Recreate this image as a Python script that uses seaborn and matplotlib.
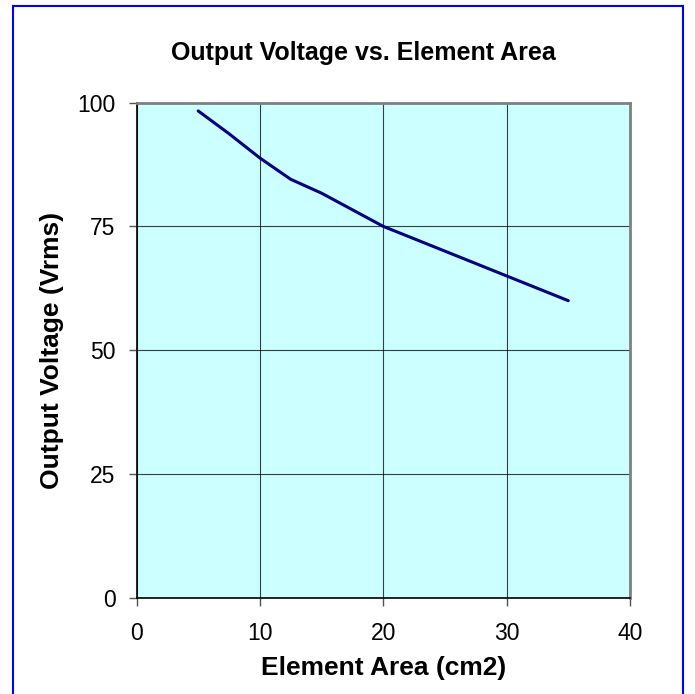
import matplotlib
matplotlib.use("Agg")
import matplotlib.pyplot as plt
import seaborn as sns
import pandas as pd
from matplotlib.patches import Rectangle

area = [5, 7.5, 10, 12.5, 15, 20, 25, 30, 35]
voltage = [98.3, 93.7, 88.8, 84.5, 81.7, 75.0, 70.0, 65.0, 60.0]
x_ticks = [0, 10, 20, 30, 40]
y_ticks = [0, 25, 50, 75, 100]

sns.set_theme(style="white")
plt.rcParams['font.family'] = ['Liberation Sans', 'DejaVu Sans']
plt.rcParams['text.color'] = 'black'
plt.rcParams['axes.labelcolor'] = 'black'

fig = plt.figure(figsize=(6.95, 6.94), dpi=100)
ax = fig.add_axes([136.5/695, 1-598/694, (630-136.5)/695, (598-102.5)/694])
ax.set_facecolor('#CCFFFF')

df = pd.DataFrame({'area': area, 'voltage': voltage})
sns.lineplot(data=df, x='area', y='voltage', ax=ax, color='#000080', linewidth=2.2, zorder=3)

ax.set_xlim(0, 40)
ax.set_ylim(0, 100)
ax.set_xticks(x_ticks)
ax.set_yticks(y_ticks)
ax.grid(True, color='#000000', linewidth=0.8, alpha=0.75)
ax.tick_params(axis='both', which='both', direction='out', length=6, width=1, color='#555555',
               labelsize=16.5, labelcolor='black', left=True, bottom=True)
ax.tick_params(axis='x', pad=11)
ax.tick_params(axis='y', pad=9)
for s in ['top', 'right']:
    ax.spines[s].set_color('#808080')
    ax.spines[s].set_linewidth(2)
for s in ['left', 'bottom']:
    ax.spines[s].set_color('#000000')
    ax.spines[s].set_linewidth(1.2)
ax.set_xlabel('Element Area (cm2)', fontsize=19, fontweight='bold', labelpad=8, color='black')
ax.set_ylabel('Output Voltage (Vrms)', fontsize=19, fontweight='bold', labelpad=10, color='black')

fig.text(363/695, 1-53/694, 'Output Voltage vs. Element Area', ha='center', va='center',
         fontsize=18, fontweight='bold', color='black')

fig.patches.append(Rectangle((13/695, -0.01), (683-13)/695, 1-6/694+0.01, transform=fig.transFigure,
                             fill=False, edgecolor='#0000FF', linewidth=1.5))

fig.savefig('out.png', dpi=100)
